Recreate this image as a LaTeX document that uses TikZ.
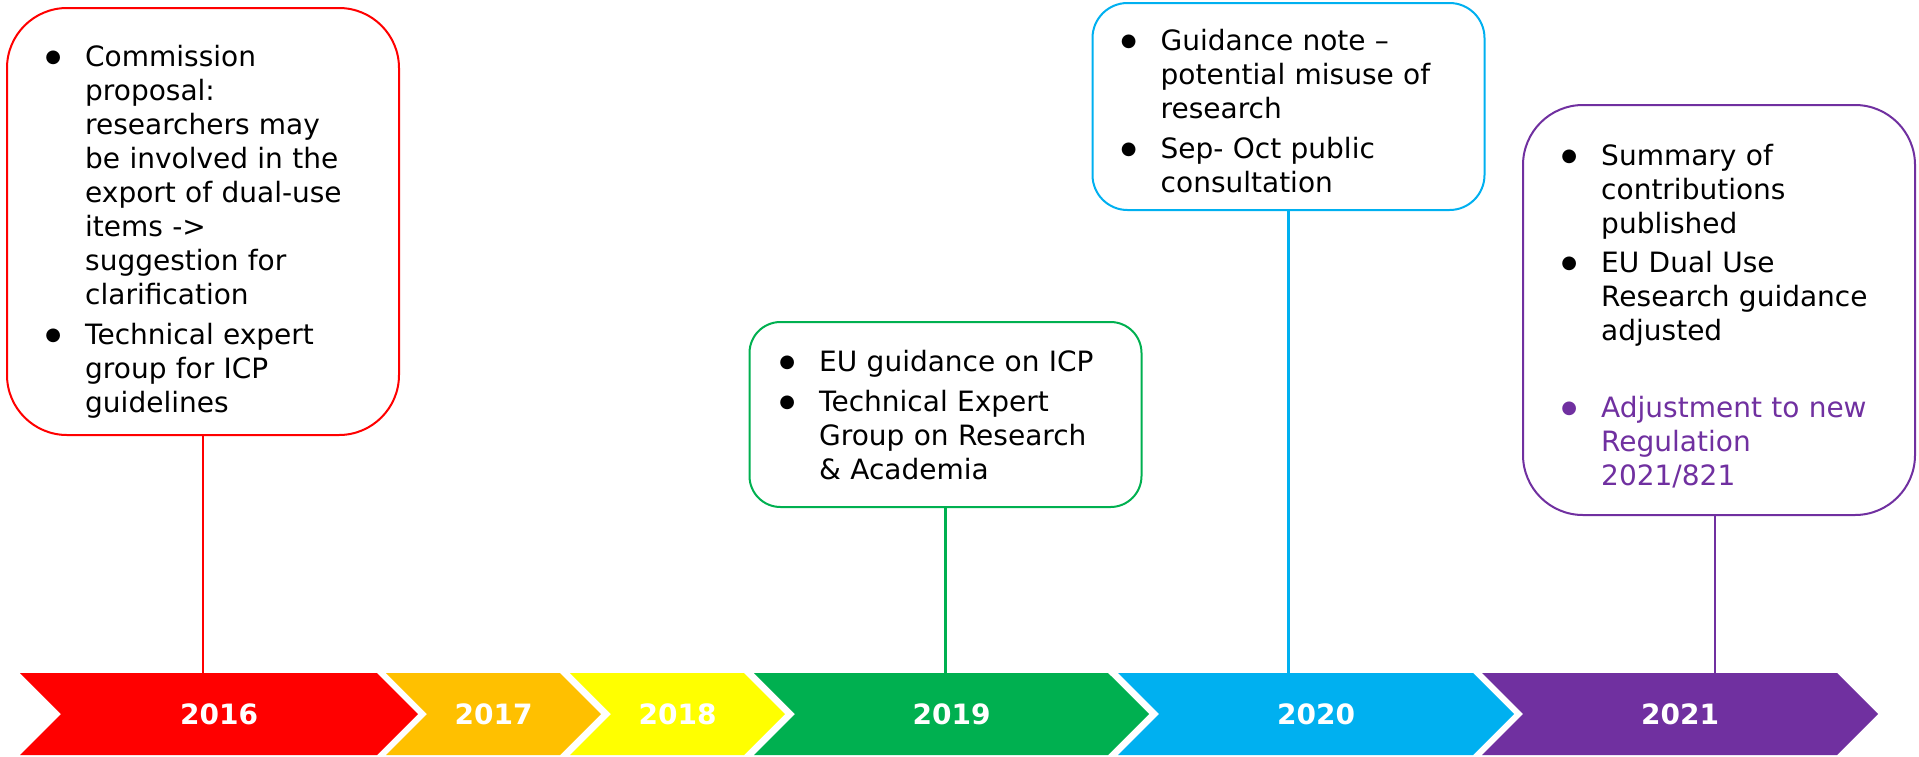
\documentclass[tikz,border=0pt]{standalone}
\usepackage{fontspec}
\setmainfont{DejaVu Sans}
\usetikzlibrary{shapes.symbols,positioning}

\definecolor{yrred}{HTML}{FF0000}
\definecolor{yrorange}{HTML}{FFC000}
\definecolor{yryellow}{HTML}{FFFF00}
\definecolor{yrgreen}{HTML}{00B050}
\definecolor{yrblue}{HTML}{00B0F0}
\definecolor{yrpurple}{HTML}{7030A0}

% bullet item with hanging text
\newlength{\hangw}\setlength{\hangw}{32pt}
\newcommand{\bitem}[2][0pt]{\par\vspace{#1}\hangindent=\hangw\hangafter=1\noindent
  \makebox[\hangw][l]{\rule{0pt}{24pt}\makebox[0pt]{\raisebox{4pt}{\fontsize{18}{18}\selectfont ●}}}#2}

\begin{document}
\begin{tikzpicture}[
    x=1pt, y=-1pt,
    eventbox/.style={
      draw=#1,
      line width=2pt,
      fill=white,
      inner sep=0pt,
      minimum width=392pt
    },
    itemtext/.style={
      inner sep=0pt,
      text width=380pt,
      align=left,
      font=\fontsize{28}{34}\selectfont
    },
    yearbar/.style={
      signal,
      signal from=west,
      signal to=east,
      signal pointer angle=90,
      fill=#1,
      inner sep=0pt,
      outer sep=0pt,
      minimum height=82pt,
      text=white,
      font=\bfseries\fontsize{28}{28}\selectfont
    },
    link/.style={draw=#1, line width=2.5pt}
  ]
  \useasboundingbox (0,0) rectangle (1919,756);

  % Year arrows
  \foreach \yr/\cx/\w/\col in {2016/219/398/yrred, 2017/493.5/215/yrorange,
      2018/677.5/215/yryellow, 2019/951.5/395/yrgreen,
      2020/1316/396/yrblue, 2021/1680/396/yrpurple}
    \node[yearbar=\col, minimum width=\w pt] (yr\yr) at (\cx,714) {\yr};

  % Box 2016
  \node[eventbox=yrred, rounded corners=60pt, minimum height=427pt] (box16) at (203,221.5) {};
  \node[itemtext, below right=25pt and 47pt of box16.north west] (txt16) {%
    \bitem{Commission\newline proposal:\newline researchers may\newline be involved in the\newline export of dual-use\newline items ->\newline suggestion for\newline clarification}
    \bitem[6pt]{Technical expert\newline group for ICP\newline guidelines}\par};

  % Box 2019
  \node[eventbox=yrgreen, rounded corners=31pt, minimum height=185pt] (box19) at (945.5,414.5) {};
  \node[itemtext, below right=16pt and 38.5pt of box19.north west] (txt19) {%
    \bitem{EU guidance on ICP}
    \bitem[6pt]{Technical Expert\newline Group on Research\newline \& Academia}\par};

  % Box 2020
  \node[eventbox=yrblue, rounded corners=35pt, minimum height=207pt] (box20) at (1288.5,106.5) {};
  \node[itemtext, below right=14pt and 37pt of box20.north west] (txt20) {%
    \bitem{Guidance note –\newline potential misuse of\newline research}
    \bitem[6pt]{Sep- Oct public\newline consultation}\par};

  % Box 2021
  \node[eventbox=yrpurple, rounded corners=60pt, minimum height=410pt] (box21) at (1719,310) {};
  \node[itemtext, below right=27pt and 47pt of box21.north west] (txt21) {%
    \bitem{Summary of\newline contributions\newline published}
    \bitem[5pt]{EU Dual Use\newline Research guidance\newline adjusted}
    \color{yrpurple}\bitem[43pt]{Adjustment to new\newline Regulation\newline 2021/821}\par};

  % Links down to the years
  \draw[link=yrred] (box16.south) -- (box16.south |- yr2016.north);
  \draw[link=yrgreen] (box19.south) -- (box19.south |- yr2019.north);
  \draw[link=yrblue] (box20.south) -- (box20.south |- yr2020.north);
  \draw[link=yrpurple] ([xshift=-4pt]box21.south) -- ([xshift=-4pt]box21.south |- yr2021.north);
\end{tikzpicture}
\end{document}
